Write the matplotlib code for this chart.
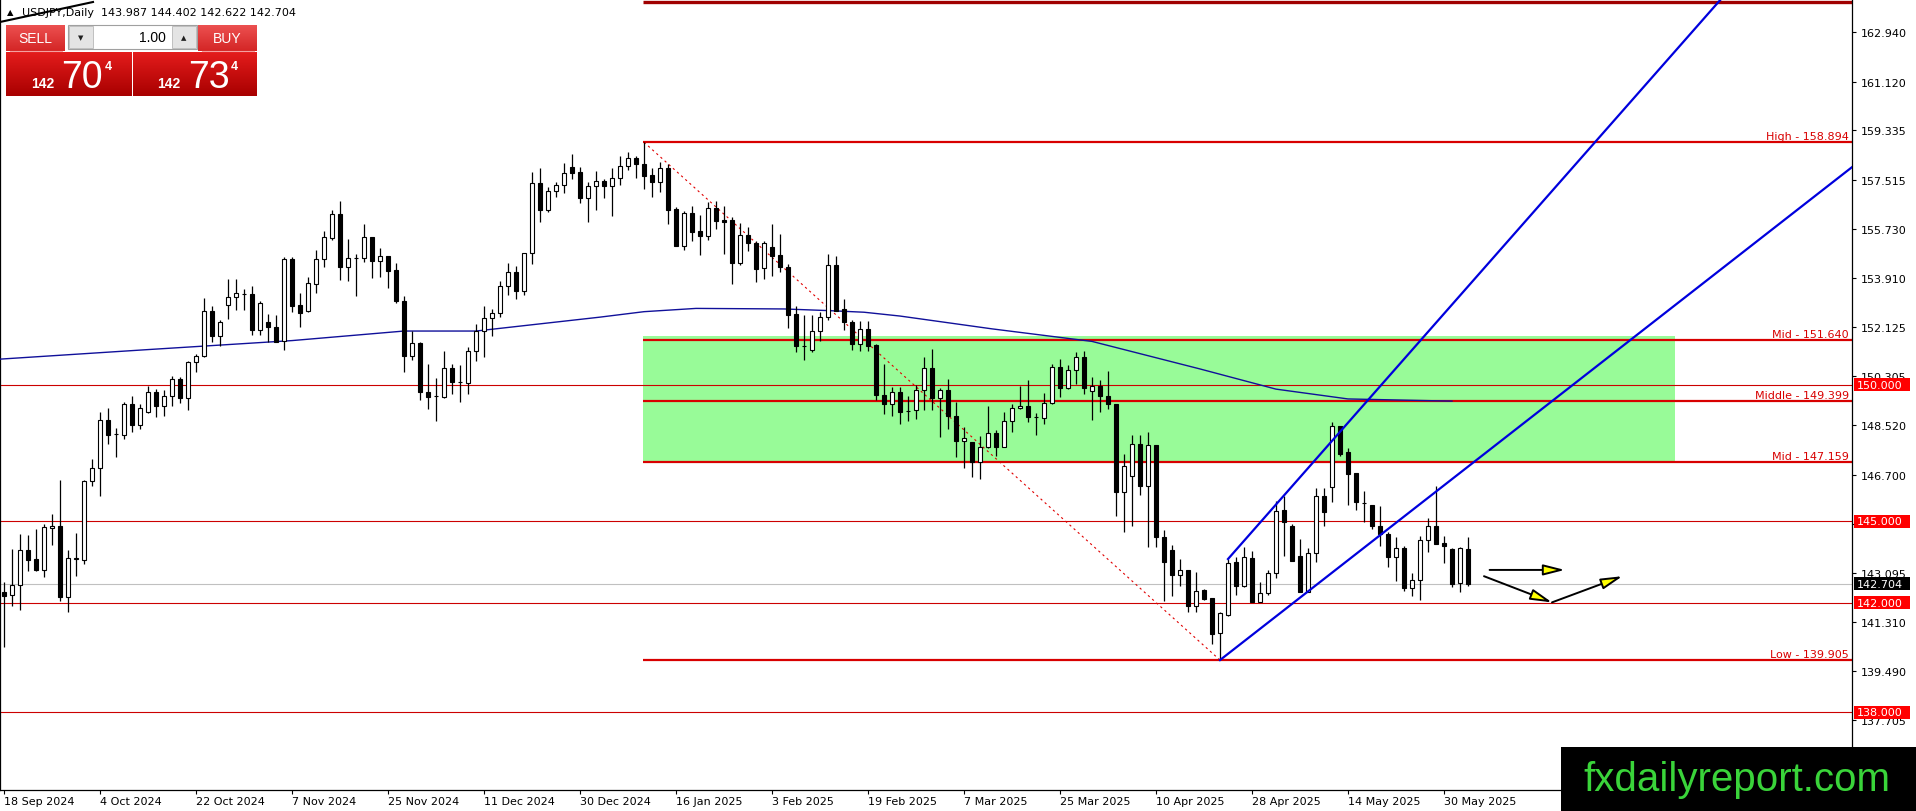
import numpy as np
import pandas as pd
import matplotlib
matplotlib.use("Agg")
import matplotlib.pyplot as plt
from matplotlib.patches import Rectangle
from matplotlib.lines import Line2D
from matplotlib.transforms import blended_transform_factory

plt.rcParams["font.family"] = ["DejaVu Sans"]

# ---- daily USDJPY candles ----
opens = [
    142.39, 142.29, 142.66, 143.93, 143.61, 143.22, 144.76, 144.81, 142.21, 143.62,
    143.59, 146.46, 146.94, 148.71, 148.18, 148.17, 149.28, 148.54, 149.01, 149.72,
    149.21, 149.60, 150.21, 149.50, 150.82, 151.04, 152.72, 151.80, 152.92, 153.23,
    153.32, 153.33, 152.02, 152.29, 152.11, 151.60, 154.61, 152.93, 152.72, 153.70,
    154.61, 155.39, 156.25, 154.31, 154.64, 154.64, 155.41, 154.53, 154.71, 154.20,
    153.08, 151.07, 151.53, 149.72, 149.58, 149.56, 150.60, 150.09, 150.05, 151.23,
    151.97, 152.44, 152.62, 153.61, 154.12, 153.45, 154.82, 157.39, 156.42, 157.09,
    157.33, 158.00, 157.79, 156.84, 157.28, 157.46, 157.28, 157.57, 158.01, 158.30,
    158.09, 157.69, 157.45, 157.94, 156.45, 155.10, 156.30, 155.63, 155.47, 156.50,
    156.04, 156.04, 154.47, 155.49, 155.20, 154.27, 155.06, 154.76, 154.33, 152.60,
    151.43, 151.29, 151.96, 152.47, 154.39, 152.78, 152.31, 151.50, 152.05, 151.46,
    149.64, 149.30, 149.72, 149.05, 149.07, 149.80, 150.60, 149.50, 149.80, 148.87,
    147.95, 147.89, 147.18, 147.71, 148.22, 147.73, 148.66, 149.14, 149.23, 148.81,
    148.77, 149.33, 150.66, 149.87, 150.54, 151.01, 149.76, 149.94, 149.60, 149.30,
    146.06, 146.64, 147.82, 146.28, 147.79, 144.43, 143.94, 143.04, 143.22, 141.88,
    142.47, 142.17, 140.88, 141.57, 143.49, 142.63, 143.63, 142.05, 142.35, 143.09,
    145.41, 144.83, 143.71, 142.41, 143.82, 145.91, 146.24, 148.48, 147.52, 146.75,
    145.66, 145.59, 144.83, 144.53, 143.67, 144.00, 142.53, 142.85, 144.32, 144.83,
    144.18, 143.98, 142.72, 143.987,
]
highs = [
    142.75, 143.98, 144.53, 144.49, 144.71, 144.89, 145.26, 146.51, 143.95, 144.56,
    146.52, 147.28, 149.01, 149.15, 148.41, 149.36, 149.60, 149.30, 149.97, 149.85,
    149.81, 150.33, 150.27, 150.88, 151.13, 153.17, 152.88, 152.39, 153.88, 153.88,
    153.51, 153.61, 153.08, 152.59, 152.56, 154.67, 154.70, 153.36, 153.96, 154.94,
    155.64, 156.41, 156.73, 155.33, 154.80, 155.90, 155.42, 155.02, 154.73, 154.47,
    153.24, 151.98, 151.56, 150.76, 150.25, 151.23, 150.76, 150.73, 151.37, 152.22,
    152.90, 152.78, 153.79, 154.47, 154.34, 154.83, 157.79, 157.95, 157.24, 157.42,
    158.15, 158.45, 158.00, 157.42, 157.83, 157.55, 157.94, 158.40, 158.52, 158.40,
    158.894, 157.94, 158.18, 158.10, 156.51, 156.39, 156.54, 156.23, 156.71, 156.73,
    156.57, 156.14, 155.93, 155.77, 155.26, 155.26, 155.90, 155.53, 154.43, 152.88,
    152.56, 152.57, 152.66, 154.80, 154.71, 153.15, 152.36, 152.35, 152.35, 151.50,
    150.76, 149.91, 149.91, 149.58, 149.99, 151.01, 151.31, 149.88, 150.21, 149.38,
    148.46, 147.89, 148.13, 149.23, 148.35, 149.01, 149.30, 149.97, 150.19, 148.96,
    149.70, 150.76, 150.94, 150.74, 151.19, 151.25, 150.27, 150.17, 150.52, 149.30,
    147.46, 148.16, 148.16, 148.28, 147.80, 144.67, 144.12, 143.61, 143.22, 143.12,
    142.51, 142.17, 141.68, 143.61, 143.67, 144.04, 143.92, 142.78, 143.22, 145.75,
    145.91, 144.89, 144.34, 144.00, 146.20, 146.20, 148.65, 148.50, 147.67, 146.75,
    146.12, 145.59, 145.54, 144.59, 144.40, 144.10, 143.10, 144.47, 145.11, 146.30,
    144.47, 144.00, 144.04, 144.402,
]
lows = [
    140.40, 141.90, 141.75, 143.18, 143.18, 142.94, 144.12, 142.08, 141.68, 143.00,
    143.43, 146.30, 145.93, 147.83, 147.36, 148.01, 148.28, 148.38, 148.96, 148.83,
    148.87, 149.23, 149.33, 149.09, 150.48, 151.01, 151.56, 151.43, 152.41, 152.75,
    152.75, 151.84, 151.83, 151.56, 151.56, 151.29, 152.66, 152.13, 152.66, 153.36,
    154.33, 155.31, 153.85, 153.82, 153.27, 154.51, 153.90, 153.96, 153.54, 152.99,
    150.46, 150.92, 149.45, 149.11, 148.66, 149.50, 149.65, 149.36, 149.66, 150.88,
    151.00, 151.80, 152.47, 153.30, 153.14, 153.30, 154.43, 155.96, 156.32, 156.87,
    157.03, 157.55, 156.65, 155.98, 156.42, 156.85, 156.20, 157.34, 157.89, 157.57,
    157.18, 156.90, 157.08, 155.90, 155.08, 154.95, 155.28, 154.76, 155.31, 155.71,
    154.80, 153.70, 154.39, 154.92, 153.78, 153.88, 154.00, 154.15, 152.08, 151.21,
    150.92, 151.21, 151.62, 152.39, 152.71, 152.02, 151.29, 151.25, 151.25, 149.44,
    148.93, 148.84, 148.56, 148.68, 148.74, 149.09, 149.09, 148.10, 148.38, 147.34,
    146.96, 146.63, 146.54, 147.68, 147.40, 147.73, 148.28, 149.11, 148.62, 148.16,
    148.56, 149.30, 149.54, 149.85, 150.03, 149.66, 148.72, 148.99, 149.11, 145.20,
    144.59, 144.83, 145.97, 144.04, 144.04, 142.08, 142.27, 142.63, 141.68, 141.66,
    142.12, 140.49, 139.905, 141.51, 142.29, 142.57, 142.04, 142.04, 142.29, 142.90,
    143.73, 143.55, 142.39, 142.39, 143.49, 144.83, 145.71, 147.37, 145.59, 145.42,
    144.96, 144.71, 144.10, 143.31, 142.82, 142.45, 142.24, 142.12, 143.88, 144.16,
    143.46, 142.57, 142.41, 142.622,
]
closes = [
    142.27, 142.66, 143.93, 143.59, 143.22, 144.77, 144.81, 142.21, 143.64, 143.63,
    146.46, 146.94, 148.71, 148.17, 148.19, 149.28, 148.54, 149.15, 149.72, 149.21,
    149.60, 150.21, 149.51, 150.82, 151.04, 152.72, 151.80, 152.29, 153.21, 153.35,
    153.33, 152.02, 153.00, 152.11, 151.58, 154.61, 152.90, 152.62, 153.72, 154.61,
    155.41, 156.25, 154.33, 154.64, 154.65, 155.41, 154.53, 154.73, 154.18, 153.08,
    151.07, 151.53, 149.72, 149.56, 149.57, 150.60, 150.09, 150.10, 151.23, 151.97,
    152.44, 152.62, 153.61, 154.12, 153.45, 154.82, 157.39, 156.42, 157.09, 157.33,
    157.75, 157.77, 156.84, 157.28, 157.46, 157.28, 157.57, 158.01, 158.30, 158.08,
    157.67, 157.45, 157.94, 156.42, 155.10, 156.30, 155.61, 155.47, 156.50, 156.02,
    155.96, 154.47, 155.49, 155.20, 154.24, 155.20, 154.73, 154.31, 152.56, 151.43,
    151.42, 151.96, 152.47, 154.39, 152.72, 152.29, 151.50, 152.05, 151.43, 149.64,
    149.30, 149.72, 149.01, 149.04, 149.80, 150.60, 149.50, 149.80, 148.87, 147.95,
    148.04, 147.18, 147.71, 148.22, 147.73, 148.66, 149.14, 149.23, 148.81, 148.80,
    149.33, 150.64, 149.87, 150.54, 151.01, 149.87, 149.94, 149.60, 149.30, 146.06,
    147.01, 147.82, 146.28, 147.79, 144.43, 143.51, 143.04, 143.22, 141.88, 142.45,
    142.14, 140.86, 141.62, 143.45, 142.63, 143.67, 142.05, 142.35, 143.10, 145.38,
    144.96, 143.55, 142.41, 143.82, 145.91, 145.35, 148.48, 147.46, 146.73, 145.69,
    145.65, 144.83, 144.53, 143.67, 144.00, 142.53, 142.85, 144.32, 144.83, 144.16,
    144.07, 142.69, 144.00, 142.704,
]

# trading days shown (no bars on 25 Dec and 1 Jan)
dates = pd.bdate_range("2024-09-18", "2025-06-04")
dates = dates[~dates.isin(pd.to_datetime(["2024-12-25", "2025-01-01"]))]
date_step = 12

header = "USDJPY,Daily  143.987 144.402 142.622 142.704"
lot_size = "1.00"
sell_quote = ("142", "70", "4")
buy_quote = ("142", "73", "4")

# moving average, read at a few bars
ma_bars = [-0.5, 18, 36, 50, 59, 74.5, 80, 86.5, 97.5, 103, 107.5, 112, 123.5, 133, 136, 149.5, 159, 168, 181]
ma_vals = [150.94, 151.29, 151.62, 151.97, 151.97, 152.48, 152.68, 152.80, 152.78, 152.72,
           152.66, 152.52, 152.05, 151.70, 151.59, 150.58, 149.84, 149.48, 149.40]

fib_names = ["High - 158.894", "Mid - 151.640", "Middle - 149.399", "Mid - 147.159", "Low - 139.905"]
fib_prices = [158.894, 151.640, 149.399, 147.159, 139.905]
top_level = 164.04
round_levels = [150.0, 145.0, 142.0, 138.0]
last_price = 142.704

high_bar, low_bar = 80, 152
zone_end_bar = 209
zone_top, zone_bottom = 151.78, 147.159

lower_line = ([152, 231], [139.905, 157.98])
upper_line = ([153, 216], [143.61, 164.60])

arrow_starts = [(185.7, 143.21), (185.0, 142.98), (193.5, 142.02)]
arrow_ends = [(195.1, 143.21), (193.5, 142.02), (202.3, 142.98)]

price_ticks = [162.940, 161.120, 159.335, 157.515, 155.730, 153.910, 152.125, 150.305,
               148.520, 146.700, 144.880, 143.095, 141.310, 139.490, 137.705]
hidden_ticks = [144.880]  # sits fully under the 145.000 box

# ---- figure ----
W, H = 1916, 812
fig = plt.figure(figsize=(W / 100, H / 100), dpi=100)
fig.patch.set_facecolor("white")


def fx(px):
    return px / W


def fy(py):
    return 1 - py / H


ax = fig.add_axes([0, fy(791), fx(1852), 791 / H])
ax.set_xlim(-0.5, 231.0)
ax.set_ylim(135.14, 164.146)

red = "#d80000"

# zone + levels
ax.add_patch(Rectangle((high_bar - 0.1, zone_bottom), zone_end_bar - high_bar, zone_top - zone_bottom,
                       fc="#98fb98", ec="none", zorder=1))
for p in round_levels:
    ax.axhline(p, color="#cc0000", lw=0.8, zorder=2)
ax.axhline(last_price, color="#c0c0c0", lw=0.8, zorder=2)
for name, p in zip(fib_names, fib_prices):
    ax.hlines(p, high_bar - 0.1, 231, color=red, lw=1.6, zorder=2.5)
    ax.annotate(name, xy=(1, p), xycoords=("axes fraction", "data"), xytext=(-3, 1),
                textcoords="offset pixels", ha="right", va="bottom", fontsize=8, color=red, zorder=6)
ax.hlines(top_level, high_bar - 0.1, 231, color="#a00000", lw=2.4, zorder=2.5)

ax.plot([high_bar, low_bar], [fib_prices[0], fib_prices[-1]], color="#e00000", lw=0.8,
        ls=(0, (2, 3)), zorder=2)

# moving average
ax.plot(ma_bars, ma_vals, color="#10109a", lw=1.0, zorder=2.6)

# candles
o, hi, lo, c = map(np.array, (opens, highs, lows, closes))
x = np.arange(len(o))
up = c >= o
ax.vlines(x, lo, hi, color="black", lw=0.9, zorder=3)
bottom = np.minimum(o, c)
height = np.maximum(np.abs(c - o), 0.01)
ax.bar(x[up], height[up], bottom=bottom[up], width=0.5, color="white", edgecolor="black",
       linewidth=0.8, zorder=4)
ax.bar(x[~up], height[~up], bottom=bottom[~up], width=0.5, color="black", edgecolor="black",
       linewidth=0.8, zorder=4)

# channel lines
ax.plot(*lower_line, color="#0000dd", lw=1.6, zorder=5)
ax.plot(*upper_line, color="#0000dd", lw=1.6, zorder=5)

# arrows
for s, e in zip(arrow_starts, arrow_ends):
    ax.annotate("", xy=e, xytext=s,
                arrowprops=dict(arrowstyle="-|>,head_length=1.3,head_width=0.33", fc="#ffff00",
                                ec="black", lw=1.4, shrinkA=0, shrinkB=0, mutation_scale=10),
                zorder=6)

# axes styling
ax.spines["top"].set_visible(False)
for side in ("left", "right", "bottom"):
    ax.spines[side].set_linewidth(0.9)
ax.yaxis.tick_right()
ax.set_yticks(price_ticks)
ax.set_yticklabels(["" if t in hidden_ticks else f"{t:.3f}" for t in price_ticks])
ax.tick_params(axis="y", direction="out", length=3, width=0.8, labelsize=8, pad=3)

xt = list(range(0, len(o), date_step))
ax.set_xticks(xt)
ax.set_xticklabels([f"{dates[i].day} {dates[i].strftime('%b %Y')}" for i in xt])
for lbl in ax.get_xticklabels():
    lbl.set_horizontalalignment("left")
ax.tick_params(axis="x", direction="out", length=3, width=0.8, labelsize=8, pad=1)

# price boxes on the scale
trans = blended_transform_factory(ax.transAxes, ax.transData)
box_h = 13 / 27.27
for p, fc in [(p, "#ff0000") for p in round_levels] + [(last_price, "black")]:
    ax.add_patch(Rectangle((1 + 2 / 1852, p - box_h / 2), 56 / 1852, box_h, transform=trans,
                           fc=fc, ec="none", clip_on=False, zorder=7))
    ax.text(1 + 5 / 1852, p, f"{p:.3f}", transform=trans, ha="left", va="center", fontsize=8,
            color="white", clip_on=False, zorder=8)

# ---- trade panel (top left) ----
def grad_box(x0, y0, x1, y1, top, bot):
    a = fig.add_axes([fx(x0), fy(y1), fx(x1 - x0), (y1 - y0) / H], zorder=20)
    c0 = np.array(matplotlib.colors.to_rgb(top))
    c1 = np.array(matplotlib.colors.to_rgb(bot))
    t = np.linspace(0, 1, 40)[:, None]
    img = c0 * (1 - t) + c1 * t
    a.imshow(img[:, None, :], aspect="auto", extent=(0, 1, 0, 1), interpolation="bilinear")
    a.set_axis_off()
    return a


grad_box(6, 26, 65, 52, "#ec5050", "#d42626")
grad_box(198, 26, 257, 52, "#ec5050", "#d42626")
grad_box(6, 53, 131, 97, "#e41c1c", "#a80000")
grad_box(133, 53, 257, 97, "#e41c1c", "#a80000")

fig.add_artist(Rectangle((fx(68), fy(50)), fx(129), 24 / H, transform=fig.transFigure,
                         fc="white", ec="#a0a0a0", lw=0.8, zorder=20))
for bx in (69, 172):
    fig.add_artist(Rectangle((fx(bx), fy(49)), fx(24), 22 / H, transform=fig.transFigure,
                             fc="#e4e4e4", ec="#b8b8b8", lw=0.6, zorder=21))
for x0 in (10, 202):
    fig.add_artist(Line2D([fx(x0), fx(x0 + 52)], [fy(51.5), fy(51.5)], transform=fig.transFigure,
                          color="#f4a0a0", lw=0.8, zorder=22))

fig.text(fx(35.5), fy(39), "SELL", ha="center", va="center", fontsize=10, color="white",
         family="Liberation Sans", zorder=23)
fig.text(fx(227.5), fy(39), "BUY", ha="center", va="center", fontsize=10, color="white",
         family="Liberation Sans", zorder=23)
fig.text(fx(166), fy(38), lot_size, ha="right", va="center", fontsize=10, color="black",
         family="Liberation Sans", zorder=23)
fig.text(fx(81), fy(38), "▼", ha="center", va="center", fontsize=5, color="#202020", zorder=23)
fig.text(fx(184), fy(38), "▲", ha="center", va="center", fontsize=5, color="#202020", zorder=23)

for (small, big, sup), (xs, xb, xp) in [(sell_quote, (31, 61, 105)), (buy_quote, (157, 188, 231))]:
    fig.text(fx(xs), fy(88), small, ha="left", va="baseline", fontsize=10, fontweight="bold",
             color="white", family="Liberation Sans", zorder=23)
    fig.text(fx(xb), fy(88), big, ha="left", va="baseline", fontsize=27, color="white",
             family="Liberation Sans", zorder=23)
    fig.text(fx(xp), fy(61), sup, ha="left", va="top", fontsize=9, fontweight="bold",
             color="white", family="Liberation Sans", zorder=23)

fig.text(fx(7), fy(13), "▲", ha="left", va="center", fontsize=6, color="black", zorder=23)
fig.text(fx(22), fy(13), header, ha="left", va="center", fontsize=8, color="black", zorder=23)
fig.add_artist(Line2D([fx(0), fx(93)], [fy(23), fy(3)], transform=fig.transFigure,
                      color="black", lw=1.5, zorder=24))

# watermark
fig.add_artist(Rectangle((fx(1561), 0), fx(355), 64 / H, transform=fig.transFigure,
                         fc="black", ec="none", zorder=30))
fig.text(fx(1737), fy(780), "fxdailyreport.com", ha="center", va="center", fontsize=29,
         color="#3ad43a", family="Liberation Sans", zorder=31)

fig.savefig("out.png", dpi=100)
